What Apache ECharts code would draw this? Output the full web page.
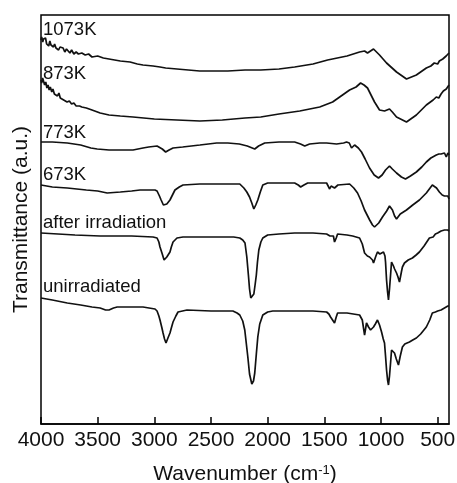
<!DOCTYPE html>
<html>
<head>
<meta charset="utf-8">
<script src="https://cdn.jsdelivr.net/npm/echarts@6/dist/echarts.min.js"></script>
<style>
  html, body { margin: 0; padding: 0; background: #fff; }
  #chart { width: 457px; height: 483px; }
</style>
</head>
<body>
<div id="chart"></div>
<script>
// spectra are stacked with an offset, values in a.u. (wavenumber, transmittance)
const names = ['1073K', '873K', '773K', '673K', 'after irradiation', 'unirradiated'];
const labelY = [394, 350, 291, 249, 201, 137];
const ticks = [4000, 3500, 3000, 2500, 2000, 1500, 1000, 500];

const k1073 = [[4000,384],[3994,387],[3985,382],[3978,385],[3968,383],[3960,386],[3950,380],[3940,382],[3932,378],[3922,383],[3912,379],[3900,380],[3890,377],[3880,380],[3868,376],[3855,378],[3845,374],[3832,377],[3820,375],[3805,376],[3790,372],[3775,375],[3760,373],[3745,371],[3730,374],[3710,370],[3690,372],[3670,370],[3640,371],[3610,369],[3580,370],[3550,367],[3500,368],[3450,366],[3400,365],[3350,364],[3300,363],[3214,362],[3150,360],[3100,359],[3011,358],[2950,357],[2900,356],[2800,355],[2700,354],[2600,353],[2500,353],[2351,353],[2200,354],[2061,354],[1900,355],[1762,357],[1600,360],[1471,364],[1300,368],[1189,372],[1145,373],[1119,371],[1066,375],[1013,369],[951,361],[863,352],[775,345],[688,349],[600,356],[560,358],[530,361],[500,360],[485,363],[470,361],[455,365],[440,363],[425,368],[412,366],[400,371]];

const k873 = [[4000,344],[3994,341],[3986,346],[3978,343],[3968,339],[3958,342],[3948,336],[3938,339],[3928,334],[3918,337],[3905,332],[3895,335],[3882,330],[3870,332],[3855,328],[3842,331],[3830,326],[3815,328],[3800,324],[3785,326],[3770,322],[3750,323],[3730,320],[3710,321],[3690,318],[3660,318],[3640,317],[3600,316],[3550,314],[3478,311],[3400,309],[3300,308],[3188,307],[3000,305],[2800,304],[2598,303],[2400,304],[2200,306],[2061,307],[1900,310],[1717,313],[1541,317],[1427,322],[1277,334],[1220,337],[1180,341],[1150,339],[1119,336],[1057,322],[1013,314],[969,313],[925,315],[900,312],[863,307],[775,302],[688,309],[600,319],[540,324],[512,327],[490,326],[470,330],[450,333],[435,331],[424,335],[410,337],[400,339]];

const k773 = [[4000,282],[3900,282],[3768,281],[3650,279],[3560,276],[3504,275],[3400,274],[3300,274],[3188,274],[3100,276],[3050,277],[2976,278],[2930,275],[2900,272],[2870,274],[2835,276],[2750,277],[2598,279],[2450,281],[2351,281],[2250,280],[2180,278],[2114,275],[2080,278],[2026,281],[1900,282],[1762,282],[1710,280],[1673,278],[1630,280],[1541,281],[1480,281],[1392,280],[1330,281],[1304,282],[1280,281],[1260,276],[1245,278],[1233,279],[1200,276],[1172,272],[1140,265],[1101,256],[1060,249],[1022,246],[990,249],[960,254],[925,258],[900,255],[863,251],[820,247],[784,245],[740,248],[688,252],[640,257],[600,262],[560,266],[512,269],[490,270],[470,270],[455,268],[440,271],[424,267],[410,271],[400,269]];

const k673 = [[4000,239],[3900,237],[3768,236],[3600,234],[3500,233],[3416,231],[3300,232],[3200,233],[3126,234],[2994,234],[2976,233],[2955,228],[2940,224],[2920,219],[2906,218],[2890,220],[2880,221],[2862,224],[2840,229],[2818,234],[2780,237],[2747,239],[2600,240],[2400,240],[2246,240],[2210,236],[2184,232],[2160,227],[2140,221],[2122,215],[2105,219],[2087,224],[2065,232],[2043,239],[2000,241],[1955,241],[1762,241],[1730,239],[1709,237],[1680,239],[1647,241],[1500,241],[1480,241],[1453,235],[1440,238],[1427,239],[1410,236],[1400,235],[1380,239],[1365,241],[1277,240],[1240,236],[1207,231],[1175,223],[1145,214],[1100,204],[1075,199],[1057,197],[1020,201],[987,207],[950,213],[925,218],[910,216],[899,214],[880,208],[863,205],[830,210],[775,214],[720,219],[661,224],[600,231],[547,239],[530,238],[510,236],[485,232],[460,229],[440,228],[424,226],[410,228],[400,225]];

const irradiated = [[4000,191],[3850,190],[3700,189],[3478,188],[3200,188],[3011,187],[2976,186],[2960,182],[2950,177],[2930,170],[2914,164],[2900,166],[2890,167],[2862,172],[2850,177],[2835,182],[2800,186],[2747,187],[2500,187],[2300,187],[2246,186],[2220,184],[2200,181],[2184,167],[2170,149],[2160,135],[2149,126],[2135,127],[2122,130],[2110,140],[2100,149],[2090,162],[2078,174],[2060,182],[2043,186],[2000,189],[1900,190],[1762,191],[1600,191],[1480,190],[1450,188],[1436,186],[1420,188],[1410,182],[1395,186],[1383,190],[1300,189],[1250,188],[1189,186],[1165,180],[1145,171],[1120,168],[1101,167],[1085,166],[1075,164],[1066,161],[1045,168],[1031,172],[1010,170],[995,171],[978,172],[965,168],[960,162],[951,144],[942,132],[934,124],[925,135],[907,162],[890,158],[880,155],[863,151],[850,147],[837,142],[820,152],[811,157],[793,161],[760,164],[723,166],[690,169],[661,172],[620,178],[573,186],[540,187],[520,190],[500,191],[485,190],[470,193],[455,191],[440,194],[424,192],[410,194],[400,193]];

const unirradiated = [[4000,126],[3950,125],[3900,124],[3768,121],[3650,119],[3550,117],[3478,116],[3430,114],[3400,114],[3360,116],[3328,117],[3200,117],[3100,117],[2994,115],[2976,113],[2960,108],[2950,104],[2935,97],[2923,91],[2910,85],[2897,81],[2880,86],[2862,91],[2850,96],[2835,102],[2810,108],[2791,112],[2712,114],[2500,113],[2307,113],[2270,111],[2246,109],[2220,103],[2202,94],[2190,82],[2175,67],[2160,50],[2140,40],[2125,43],[2114,51],[2100,70],[2087,87],[2070,100],[2043,109],[2000,112],[1955,113],[1762,113],[1600,113],[1480,112],[1460,110],[1445,107],[1430,109],[1410,101],[1395,107],[1383,111],[1300,111],[1189,109],[1165,104],[1145,89],[1135,96],[1128,101],[1110,97],[1092,94],[1080,96],[1066,97],[1050,100],[1031,104],[1013,99],[995,92],[980,85],[969,81],[960,68],[951,54],[942,44],[934,39],[925,48],[915,62],[907,74],[895,73],[881,71],[865,65],[846,59],[830,68],[811,77],[790,80],[770,81],[749,82],[720,84],[688,86],[650,90],[600,97],[570,104],[547,111],[520,112],[500,113],[485,114],[470,114],[455,116],[440,116],[424,117],[410,118],[400,118]];

const spectra = [k1073, k873, k773, k673, irradiated, unirradiated];

const font = 'Liberation Sans, Arial, sans-serif';
const chart = echarts.init(document.getElementById('chart'));

const series = spectra.map((d, i) => ({
  name: names[i],
  type: 'line',
  data: d,
  showSymbol: false,
  symbol: 'none',
  lineStyle: { color: '#111', width: 1.7 },
  markPoint: {
    symbol: 'circle',
    symbolSize: 0,
    data: [{ coord: [4000, labelY[i]], value: names[i] }],
    label: {
      show: true, position: 'right', distance: 2,
      formatter: names[i], color: '#111', fontSize: 18.5, fontFamily: font
    }
  }
}));

chart.setOption({
  animation: false,
  grid: {
    left: 41, right: 8, top: 15, bottom: 59,
    outerBoundsMode: 'none', containLabel: false,
    show: true, borderColor: '#000', borderWidth: 1.5
  },
  xAxis: {
    type: 'value', inverse: true, min: 400, max: 4000,
    axisLine: { show: true, lineStyle: { color: '#000', width: 1.5 } },
    axisTick: { show: true, inside: true, length: 7, customValues: ticks, lineStyle: { color: '#000', width: 1.5 } },
    axisLabel: {
      customValues: ticks, fontSize: 21, color: '#111', margin: 6, fontFamily: font,
      hideOverlap: false, showMinLabel: true, showMaxLabel: true,
      formatter: v => String(v)
    },
    splitLine: { show: false },
    name: '{a|Wavenumber (cm}{s|-1}{a|)}',
    nameLocation: 'middle', nameGap: 40,
    nameTextStyle: {
      rich: {
        a: { fontSize: 21, color: '#111', fontFamily: font },
        s: { fontSize: 13, color: '#111', fontFamily: font, verticalAlign: 'top' }
      }
    }
  },
  yAxis: {
    type: 'value', min: 0, max: 409,
    axisLine: { show: false }, axisTick: { show: false }, axisLabel: { show: false },
    splitLine: { show: false },
    name: 'Transmittance (a.u.)', nameLocation: 'middle', nameGap: 9,
    nameTextStyle: { fontSize: 21, color: '#111', fontFamily: font }
  },
  series: series
});
</script>
</body>
</html>
